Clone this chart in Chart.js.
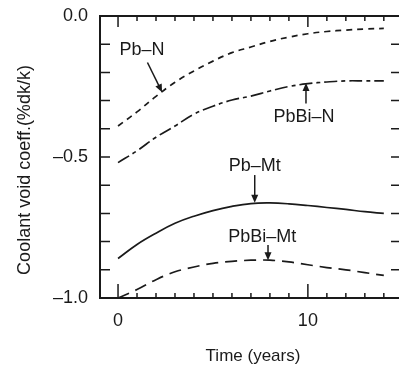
<!DOCTYPE html>
<html>
<head>
<meta charset="utf-8">
<script src="https://cdn.jsdelivr.net/npm/chart.js@4.4.1/dist/chart.umd.min.js"></script>
<style>
html, body { margin: 0; padding: 0; background: #fff; }
canvas { display: block; }
</style>
</head>
<body>
<canvas id="chart-void" width="399" height="370"></canvas>
<script>
// DATA
const years = [0, 1, 2, 3, 4, 5, 6, 7, 8, 9, 10, 11, 12, 13, 14];
const pbN = [-0.39, -0.34, -0.285, -0.235, -0.195, -0.16, -0.13, -0.11, -0.09, -0.075, -0.063, -0.055, -0.05, -0.046, -0.044];
const pbBiN = [-0.52, -0.478, -0.43, -0.39, -0.348, -0.32, -0.298, -0.284, -0.266, -0.25, -0.24, -0.234, -0.23, -0.23, -0.23];
const pbMt = [-0.86, -0.81, -0.77, -0.735, -0.71, -0.69, -0.675, -0.665, -0.663, -0.666, -0.672, -0.679, -0.686, -0.694, -0.70];
const pbBiMt = [-1.0, -0.97, -0.935, -0.907, -0.89, -0.877, -0.87, -0.866, -0.866, -0.872, -0.882, -0.892, -0.9, -0.91, -0.92];

const xTicks = [0, 1, 2, 3, 4, 5, 6, 7, 8, 9, 10, 11, 12, 13, 14];
const xTickLabels = [0, 10];
const yTicks = [0, -0.1, -0.2, -0.3, -0.4, -0.5, -0.6, -0.7, -0.8, -0.9, -1.0];
const yTickLabels = [0, -0.5, -1.0];

const FONT = '"Liberation Sans", Arial, Helvetica, sans-serif';
const INK = '#1a1a1a';

const toPoints = (vals) => years.map((t, i) => ({ x: t, y: vals[i] }));

// arrow with filled head
function arrow(ctx, x1, y1, x2, y2) {
    const a = Math.atan2(y2 - y1, x2 - x1);
    const L = 8, W = 3.5;
    ctx.beginPath();
    ctx.moveTo(x1, y1);
    ctx.lineTo(x2 - L * 0.7 * Math.cos(a), y2 - L * 0.7 * Math.sin(a));
    ctx.stroke();
    ctx.beginPath();
    ctx.moveTo(x2, y2);
    ctx.lineTo(x2 - L * Math.cos(a) + W * Math.sin(a), y2 - L * Math.sin(a) - W * Math.cos(a));
    ctx.lineTo(x2 - L * Math.cos(a) - W * Math.sin(a), y2 - L * Math.sin(a) + W * Math.cos(a));
    ctx.closePath();
    ctx.fill();
}

// inward ticks + top frame line
const frame = {
    id: 'frame',
    afterDraw(chart) {
        const { ctx, chartArea: a, scales: { x, y } } = chart;
        ctx.save();
        ctx.strokeStyle = INK;
        ctx.lineWidth = 2;
        ctx.beginPath();
        ctx.moveTo(a.left - 1, a.top);
        ctx.lineTo(a.right, a.top);
        ctx.stroke();
        ctx.lineWidth = 1.5;
        xTicks.forEach(v => {
            const px = x.getPixelForValue(v);
            const major = xTickLabels.includes(v);
            ctx.beginPath();
            ctx.moveTo(px, a.bottom);
            ctx.lineTo(px, a.bottom - (major ? 14 : 5));
            ctx.moveTo(px, a.top);
            ctx.lineTo(px, a.top + (major ? 11 : 5));
            ctx.stroke();
        });
        yTicks.forEach(v => {
            const py = y.getPixelForValue(v);
            ctx.beginPath();
            ctx.moveTo(a.left, py);
            ctx.lineTo(a.left + 10, py);
            ctx.moveTo(a.right, py);
            ctx.lineTo(a.right - 8, py);
            ctx.stroke();
        });
        ctx.restore();
    }
};

// curve labels and axis titles
const notes = {
    id: 'notes',
    afterDraw(chart) {
        const { ctx, scales: { x, y } } = chart;
        const items = [
            { text: 'Pb\u2013N', at: [1.26, -0.12], from: [1.55, -0.165], to: [2.32, -0.27] },
            { text: 'PbBi\u2013N', at: [9.8, -0.358], from: [9.9, -0.31], to: [9.9, -0.238] },
            { text: 'Pb\u2013Mt', at: [7.2, -0.532], from: [7.2, -0.564], to: [7.2, -0.662] },
            { text: 'PbBi\u2013Mt', at: [7.6, -0.784], from: [7.9, -0.812], to: [7.9, -0.866] }
        ];
        ctx.save();
        ctx.fillStyle = INK;
        ctx.strokeStyle = INK;
        ctx.lineWidth = 1.5;
        ctx.font = '18px ' + FONT;
        ctx.textAlign = 'center';
        ctx.textBaseline = 'middle';
        items.forEach(n => {
            ctx.fillText(n.text, x.getPixelForValue(n.at[0]), y.getPixelForValue(n.at[1]));
            arrow(ctx, x.getPixelForValue(n.from[0]), y.getPixelForValue(n.from[1]),
                x.getPixelForValue(n.to[0]), y.getPixelForValue(n.to[1]));
        });
        ctx.font = '17px ' + FONT;
        ctx.fillText('Time (years)', 253, 356);
        ctx.translate(25, 170);
        ctx.rotate(-Math.PI / 2);
        ctx.font = '18px ' + FONT;
        ctx.fillText('Coolant void coeff.(%dk/k)', 0, 0);
        ctx.restore();
    }
};

const lineStyle = { borderColor: INK, borderWidth: 1.7, pointRadius: 0, tension: 0.4, fill: false };

const voidCot = document.getElementById('chart-void');

let voidChart = new Chart(voidCot, {
    type: 'line',
    data: {
        datasets: [
            { label: 'Pb-N', data: toPoints(pbN), borderDash: [6, 5], ...lineStyle },
            { label: 'PbBi-N', data: toPoints(pbBiN), borderDash: [13, 4, 4, 4], ...lineStyle },
            { label: 'Pb-Mt', data: toPoints(pbMt), ...lineStyle },
            { label: 'PbBi-Mt', data: toPoints(pbBiMt), borderDash: [12, 7], ...lineStyle }
        ]
    },
    options: {
        responsive: false,
        animation: false,
        devicePixelRatio: 1,
        layout: { padding: { top: 16, right: 0, bottom: 0, left: 0 } },
        scales: {
            x: {
                type: 'linear',
                min: -0.95,
                max: 14.8,
                afterBuildTicks: s => { s.ticks = xTicks.map(v => ({ value: v })); },
                afterFit: s => { s.height = 72; s.paddingLeft = 0; s.paddingRight = 0; },
                ticks: {
                    callback: v => xTickLabels.includes(v) ? String(v) : '',
                    font: { family: FONT, size: 18 },
                    color: INK,
                    padding: 12,
                    maxRotation: 0,
                    autoSkip: false
                },
                grid: { display: false, drawTicks: false },
                border: { display: true, color: INK, width: 2 }
            },
            y: {
                min: -1,
                max: 0,
                afterBuildTicks: s => { s.ticks = yTicks.map(v => ({ value: v })); },
                afterFit: s => { s.width = 100; s.paddingTop = 0; s.paddingBottom = 0; },
                ticks: {
                    callback: v => yTickLabels.includes(v) ? (v < 0 ? '\u2013' : '') + Math.abs(v).toFixed(1) : '',
                    font: { family: FONT, size: 18 },
                    color: INK,
                    padding: 12,
                    autoSkip: false
                },
                grid: { display: false, drawTicks: false },
                border: { display: true, color: INK, width: 2 }
            }
        },
        plugins: {
            legend: { display: false },
            tooltip: { enabled: false }
        }
    },
    plugins: [frame, notes]
});
</script>
</body>
</html>
